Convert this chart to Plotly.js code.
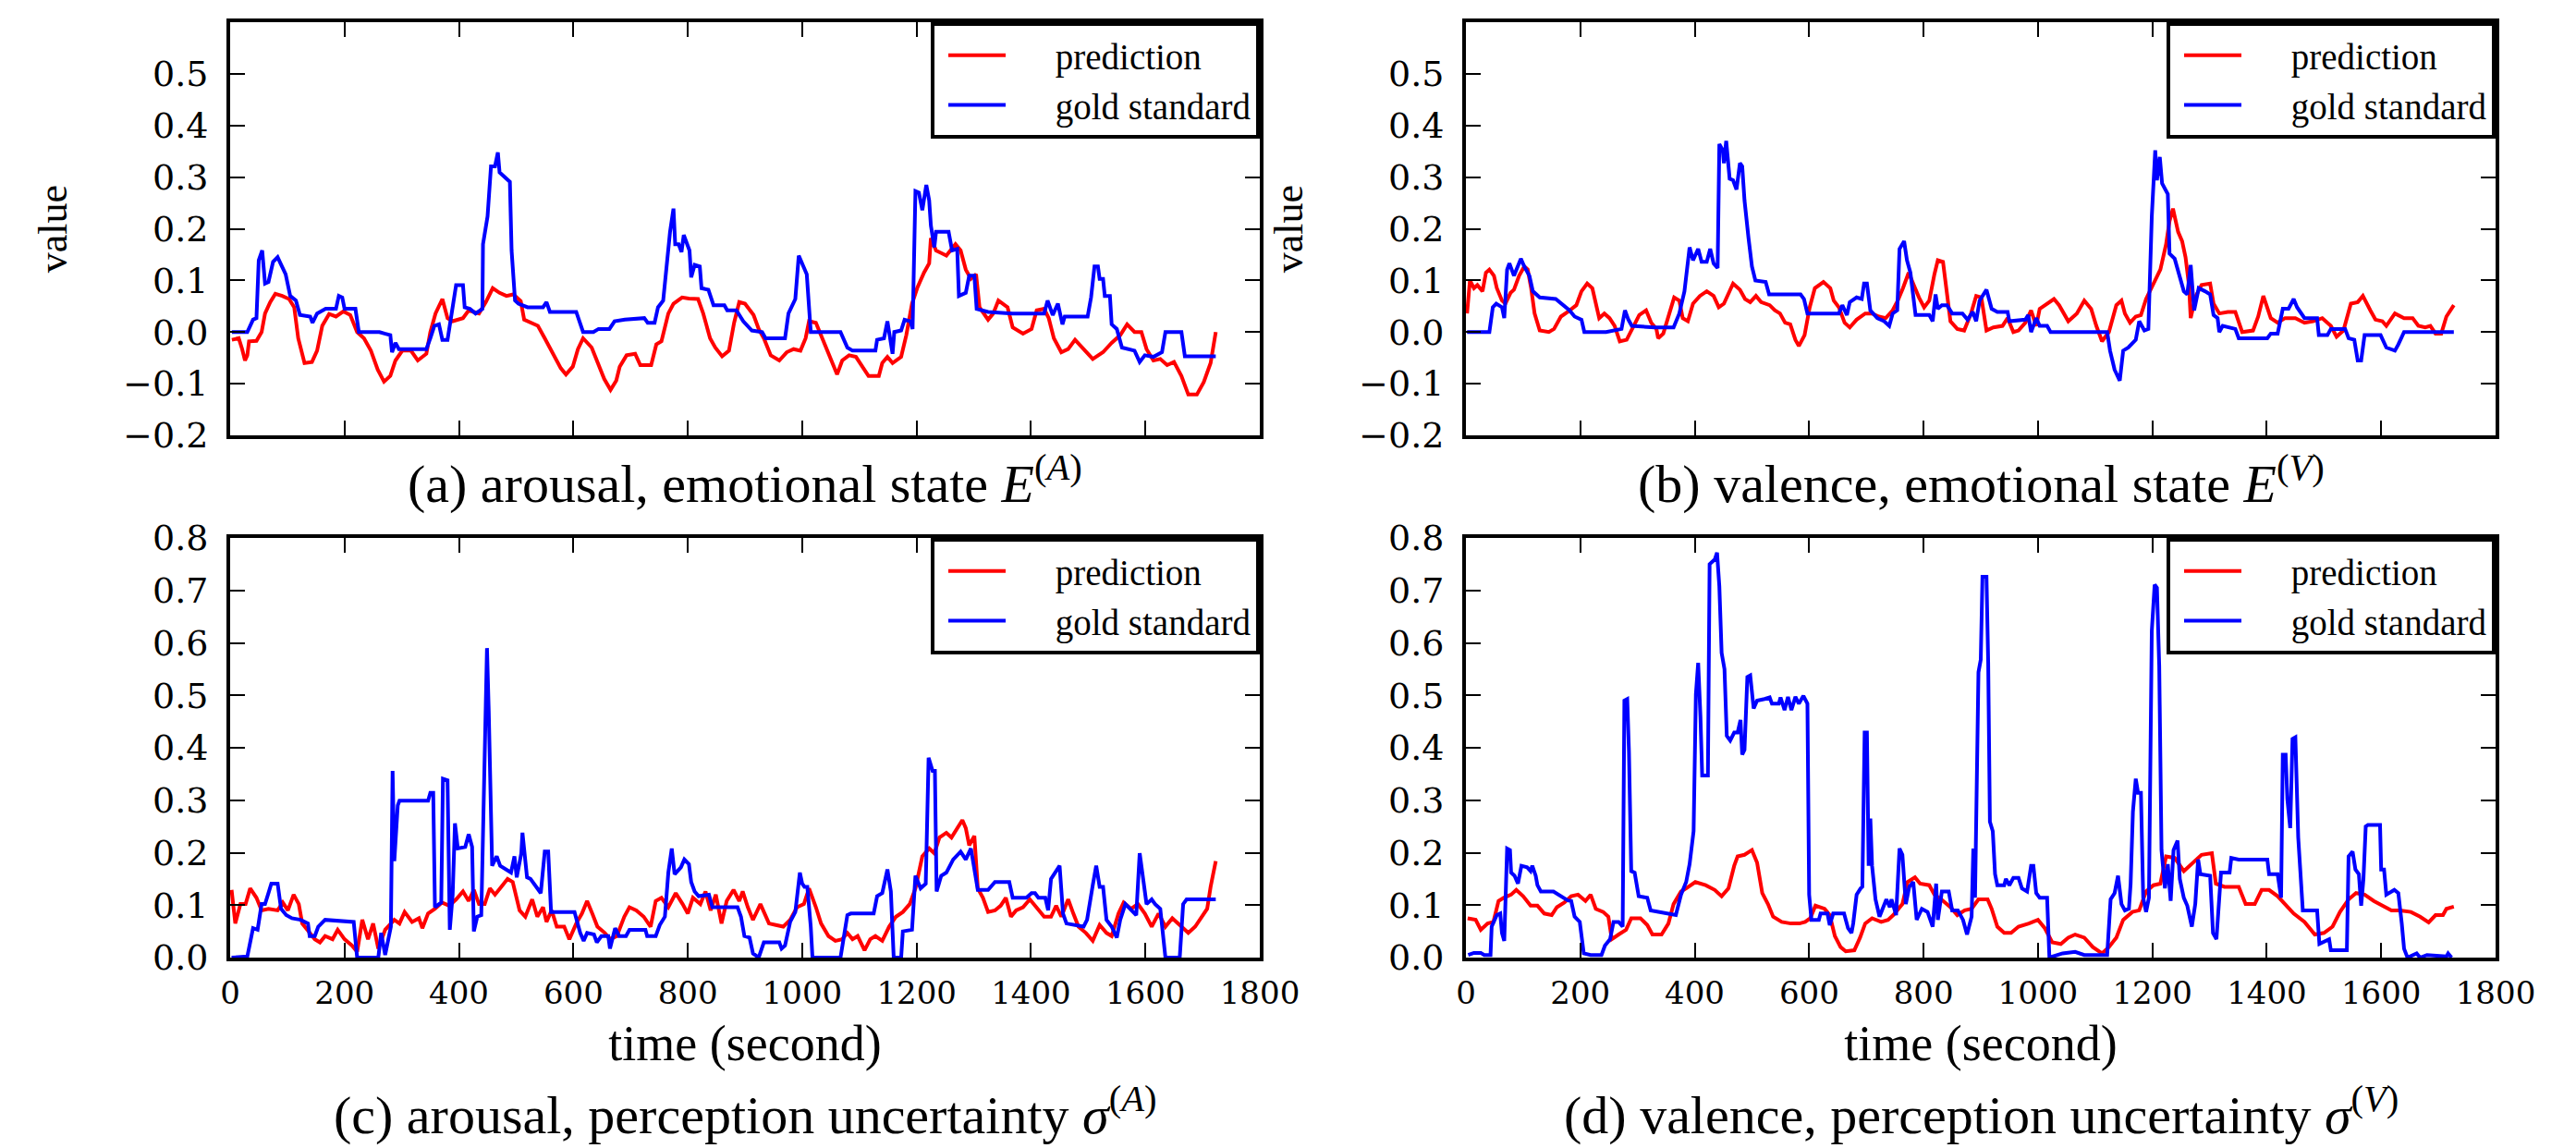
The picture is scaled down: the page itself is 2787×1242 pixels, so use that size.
<!DOCTYPE html>
<html>
<head>
<meta charset="utf-8">
<script src="https://cdn.plot.ly/plotly-3.0.1.min.js"></script>
<style>html,body{margin:0;padding:0;background:#fff;}#chart{width:2787px;height:1242px;}</style>
</head>
<body>
<div id="chart"></div>
<script>
// ---------------- data: [time (s), value] ----------------
const seriesNames = ['prediction', 'gold standard'];
const timeTicks = [0, 200, 400, 600, 800, 1000, 1200, 1400, 1600, 1800];
const stateTicks = [-0.2, -0.1, 0.0, 0.1, 0.2, 0.3, 0.4, 0.5];
const uncertTicks = [0.0, 0.1, 0.2, 0.3, 0.4, 0.5, 0.6, 0.7, 0.8];
const captions = [
  '(a) arousal, emotional state <i>E</i><sup>(<i>A</i>)</sup>',
  '(b) valence, emotional state <i>E</i><sup>(<i>V</i>)</sup>',
  '(c) arousal, perception uncertainty <i>σ</i><sup>(<i>A</i>)</sup>',
  '(d) valence, perception uncertainty <i>σ</i><sup>(<i>V</i>)</sup>'
];

const arousalStatePred = [[3,-0.015],[15,-0.012],[21,-0.033],[26,-0.055],[30,-0.045],[33,-0.018],[46,-0.017],[55,0.0],[61,0.036],[70,0.058],[79,0.074],[91,0.07],[103,0.064],[112,0.048],[119,-0.012],[130,-0.06],[143,-0.058],[152,-0.036],[161,0.012],[173,0.035],[185,0.03],[198,0.04],[210,0.033],[222,0.0],[234,-0.012],[246,-0.036],[258,-0.073],[269,-0.096],[280,-0.085],[289,-0.055],[301,-0.036],[316,-0.036],[328,-0.055],[343,-0.042],[350,0.0],[359,0.036],[371,0.064],[380,0.027],[389,0.021],[407,0.027],[417,0.042],[435,0.036],[447,0.058],[459,0.085],[471,0.076],[483,0.07],[495,0.073],[508,0.06],[514,0.024],[526,0.018],[538,0.012],[550,-0.012],[565,-0.042],[578,-0.07],[587,-0.082],[599,-0.067],[608,-0.033],[617,-0.012],[632,-0.03],[641,-0.055],[654,-0.091],[665,-0.112],[675,-0.094],[681,-0.067],[693,-0.045],[708,-0.042],[717,-0.064],[736,-0.064],[745,-0.024],[754,-0.018],[766,0.036],[775,0.055],[790,0.067],[802,0.065],[818,0.064],[827,0.036],[839,-0.012],[848,-0.03],[860,-0.047],[872,-0.036],[881,0.018],[890,0.058],[900,0.055],[915,0.033],[924,0.006],[933,-0.012],[945,-0.045],[960,-0.055],[973,-0.039],[985,-0.033],[997,-0.036],[1006,-0.012],[1012,0.021],[1024,0.018],[1033,-0.006],[1043,-0.033],[1052,-0.055],[1061,-0.082],[1070,-0.055],[1082,-0.045],[1094,-0.048],[1106,-0.067],[1116,-0.085],[1134,-0.085],[1140,-0.06],[1149,-0.048],[1158,-0.06],[1173,-0.048],[1182,-0.006],[1192,0.055],[1201,0.085],[1213,0.115],[1222,0.133],[1225,0.182],[1234,0.158],[1252,0.148],[1268,0.17],[1277,0.158],[1286,0.121],[1295,0.103],[1304,0.112],[1310,0.048],[1325,0.024],[1334,0.036],[1343,0.061],[1359,0.048],[1368,0.009],[1386,-0.003],[1401,0.006],[1410,0.042],[1423,0.045],[1431,0.027],[1440,-0.012],[1453,-0.039],[1465,-0.033],[1477,-0.015],[1489,-0.03],[1499,-0.042],[1508,-0.052],[1526,-0.039],[1541,-0.021],[1556,-0.006],[1568,0.015],[1581,0.0],[1593,0.0],[1602,-0.033],[1614,-0.055],[1626,-0.052],[1638,-0.064],[1650,-0.058],[1663,-0.085],[1675,-0.121],[1690,-0.121],[1702,-0.097],[1714,-0.06],[1723,0.0]];

const arousalStateGold = [[3,0],[30,0],[40,0.024],[46,0.027],[50,0.139],[56,0.158],[61,0.094],[67,0.097],[75,0.136],[83,0.145],[88,0.133],[97,0.112],[105,0.07],[115,0.061],[122,0.033],[140,0.03],[144,0.018],[152,0.036],[167,0.045],[185,0.045],[190,0.07],[196,0.067],[200,0.045],[219,0.045],[225,0],[261,0],[270,-0.003],[280,-0.006],[283,-0.039],[289,-0.021],[295,-0.033],[343,-0.033],[350,-0.012],[357,0.012],[365,0.015],[371,-0.015],[380,-0.015],[389,0.045],[395,0.091],[407,0.091],[410,0.048],[419,0.045],[429,0.036],[441,0.045],[442,0.17],[450,0.224],[456,0.321],[463,0.321],[468,0.348],[471,0.309],[483,0.297],[489,0.291],[492,0.158],[498,0.061],[504,0.055],[520,0.048],[547,0.048],[553,0.058],[559,0.039],[605,0.039],[617,0],[635,0],[644,0.006],[663,0.006],[672,0.021],[690,0.024],[724,0.027],[730,0.018],[742,0.018],[748,0.048],[757,0.061],[763,0.127],[769,0.194],[775,0.239],[778,0.17],[784,0.17],[789,0.155],[793,0.188],[803,0.158],[806,0.106],[812,0.13],[821,0.127],[824,0.085],[836,0.082],[845,0.052],[864,0.052],[869,0.042],[885,0.042],[897,0.021],[912,0.003],[930,0],[936,-0.012],[970,-0.012],[976,0.036],[988,0.064],[994,0.148],[1000,0.133],[1008,0.112],[1015,0],[1067,0],[1079,-0.03],[1088,-0.036],[1128,-0.036],[1131,-0.015],[1143,-0.012],[1149,0.021],[1158,-0.042],[1161,0],[1173,0.003],[1179,0.024],[1189,0.021],[1193,0.006],[1198,0.273],[1204,0.27],[1210,0.236],[1217,0.285],[1222,0.255],[1225,0.206],[1231,0.164],[1234,0.194],[1256,0.194],[1262,0.158],[1271,0.161],[1274,0.07],[1286,0.076],[1292,0.109],[1301,0.109],[1305,0.045],[1325,0.039],[1368,0.036],[1423,0.036],[1429,0.061],[1438,0.033],[1447,0.055],[1455,0.015],[1459,0.03],[1499,0.03],[1505,0.067],[1511,0.127],[1517,0.127],[1520,0.103],[1526,0.103],[1529,0.07],[1538,0.07],[1541,0.015],[1550,0.006],[1559,-0.03],[1581,-0.036],[1590,-0.058],[1599,-0.045],[1614,-0.048],[1629,-0.039],[1635,0],[1663,0],[1669,-0.047],[1723,-0.047]];

const valenceStatePred = [[2,0.036],[7,0.1],[14,0.085],[20,0.091],[29,0.079],[35,0.115],[41,0.121],[49,0.109],[54,0.085],[63,0.061],[69,0.055],[78,0.076],[84,0.082],[93,0.109],[102,0.127],[108,0.121],[114,0.085],[120,0.036],[129,0.003],[145,0],[154,0.006],[166,0.03],[178,0.039],[193,0.052],[202,0.079],[212,0.094],[221,0.085],[227,0.055],[233,0.027],[242,0.036],[251,0.027],[260,0.012],[269,-0.018],[281,-0.015],[290,0.006],[303,0.033],[315,0.042],[324,0.018],[333,0.006],[336,-0.012],[345,-0.003],[354,0.033],[364,0.067],[373,0.061],[379,0.027],[388,0.021],[397,0.055],[409,0.07],[421,0.079],[433,0.07],[442,0.048],[451,0.055],[467,0.094],[479,0.082],[488,0.064],[497,0.058],[507,0.07],[516,0.058],[531,0.052],[540,0.042],[549,0.036],[558,0.018],[567,0.015],[576,-0.015],[582,-0.027],[592,-0.006],[601,0.048],[610,0.085],[625,0.097],[637,0.085],[643,0.061],[652,0.048],[662,0.018],[671,0.009],[683,0.024],[698,0.036],[710,0.036],[722,0.03],[734,0.027],[746,0.042],[755,0.061],[764,0.085],[774,0.115],[783,0.091],[792,0.067],[801,0.048],[810,0.061],[819,0.112],[825,0.139],[834,0.136],[840,0.085],[847,0.021],[859,0.006],[871,0.003],[883,0.036],[892,0.07],[901,0.067],[910,0.003],[922,0.009],[938,0.012],[947,0.027],[957,0],[966,0.003],[978,0.018],[988,0.042],[997,0.012],[1003,0.045],[1016,0.055],[1028,0.064],[1037,0.052],[1053,0.021],[1068,0.036],[1081,0.061],[1093,0.045],[1102,0.012],[1112,-0.018],[1124,0],[1137,0.052],[1146,0.061],[1152,0.036],[1161,0.018],[1171,0.03],[1180,0.033],[1189,0.064],[1202,0.094],[1214,0.121],[1224,0.17],[1230,0.215],[1236,0.239],[1245,0.194],[1252,0.176],[1258,0.145],[1264,0.091],[1267,0.027],[1276,0.07],[1286,0.091],[1301,0.094],[1307,0.055],[1317,0.036],[1332,0.039],[1345,0.039],[1357,0],[1376,0.003],[1385,0.03],[1394,0.07],[1407,0.027],[1419,0.018],[1432,0.027],[1450,0.027],[1466,0.018],[1481,0.021],[1497,0.027],[1512,0.012],[1522,-0.009],[1534,0.003],[1547,0.055],[1559,0.058],[1568,0.07],[1581,0.042],[1590,0.024],[1602,0.021],[1609,0.012],[1624,0.036],[1640,0.027],[1655,0.027],[1665,0.012],[1677,0.009],[1686,0.012],[1695,-0.003],[1705,-0.003],[1714,0.03],[1727,0.052]];

const valenceStateGold = [[2,0],[41,0],[47,0.048],[53,0.055],[63,0.048],[67,0.027],[72,0.121],[76,0.133],[84,0.109],[90,0.124],[96,0.142],[102,0.127],[111,0.109],[117,0.079],[129,0.067],[157,0.064],[169,0.052],[181,0.042],[190,0.03],[202,0.024],[207,0],[245,0],[272,0.006],[278,0.042],[284,0.024],[290,0.012],[330,0.009],[363,0.009],[373,0.036],[382,0.079],[391,0.164],[397,0.139],[406,0.161],[412,0.136],[421,0.136],[427,0.161],[433,0.133],[440,0.124],[443,0.364],[449,0.352],[451,0.327],[455,0.37],[461,0.297],[467,0.294],[473,0.276],[479,0.327],[483,0.321],[487,0.255],[494,0.182],[500,0.127],[506,0.1],[524,0.097],[530,0.073],[585,0.073],[591,0.064],[597,0.036],[652,0.036],[658,0.052],[666,0.033],[671,0.058],[683,0.067],[692,0.064],[696,0.094],[701,0.094],[707,0.042],[719,0.027],[731,0.021],[740,0.012],[746,0.036],[754,0.042],[758,0.161],[766,0.176],[771,0.139],[777,0.115],[786,0.033],[810,0.033],[816,0.021],[821,0.073],[825,0.045],[832,0.052],[841,0.052],[850,0.036],[868,0.036],[877,0.024],[886,0.039],[892,0.021],[898,0.061],[910,0.082],[919,0.045],[929,0.039],[947,0.039],[950,0.021],[978,0.024],[983,0.033],[988,0],[997,0.027],[1003,0.012],[1016,0.012],[1022,0],[1121,0],[1126,-0.036],[1134,-0.073],[1143,-0.094],[1149,-0.036],[1158,-0.03],[1171,-0.015],[1177,0.021],[1186,0.003],[1193,0.006],[1199,0.224],[1205,0.352],[1208,0.294],[1213,0.339],[1217,0.288],[1227,0.267],[1230,0.152],[1239,0.142],[1246,0.115],[1255,0.079],[1261,0.073],[1267,0.13],[1273,0.042],[1281,0.085],[1292,0.079],[1301,0.073],[1307,0.033],[1314,0.027],[1317,0],[1323,0.012],[1345,0.006],[1351,-0.012],[1401,-0.012],[1407,-0.003],[1419,-0.003],[1428,0.045],[1438,0.045],[1447,0.064],[1453,0.048],[1466,0.027],[1488,0.027],[1491,-0.006],[1506,-0.006],[1512,0.006],[1537,0.006],[1543,-0.012],[1553,-0.015],[1559,-0.055],[1565,-0.055],[1571,-0.006],[1599,-0.006],[1609,-0.03],[1624,-0.036],[1630,-0.024],[1640,0],[1727,0]];

const arousalUncertPred = [[2.5,0.129],[9,0.065],[18,0.102],[27,0.102],[35,0.132],[46,0.114],[55,0.09],[67,0.093],[83,0.09],[92,0.105],[101,0.09],[111,0.12],[120,0.102],[126,0.065],[135,0.053],[148,0.035],[157,0.029],[166,0.041],[179,0.035],[188,0.053],[200,0.035],[213,0.023],[222,0.011],[231,0.072],[241,0.035],[250,0.065],[259,0.017],[271,0.053],[287,0.072],[296,0.065],[305,0.087],[318,0.068],[330,0.075],[336,0.056],[346,0.084],[358,0.093],[370,0.105],[383,0.099],[395,0.111],[407,0.126],[417,0.108],[426,0.129],[435,0.102],[445,0.102],[454,0.132],[463,0.12],[472,0.132],[485,0.15],[494,0.144],[500,0.12],[506,0.09],[516,0.078],[528,0.111],[537,0.078],[547,0.096],[553,0.068],[562,0.09],[571,0.059],[584,0.059],[593,0.035],[605,0.065],[615,0.084],[624,0.108],[633,0.084],[642,0.059],[655,0.047],[664,0.035],[676,0.041],[689,0.078],[698,0.096],[710,0.09],[723,0.078],[735,0.059],[744,0.108],[754,0.114],[766,0.096],[779,0.123],[791,0.102],[800,0.084],[809,0.114],[822,0.102],[831,0.126],[840,0.09],[849,0.12],[859,0.065],[868,0.108],[880,0.129],[890,0.108],[896,0.126],[905,0.096],[914,0.072],[927,0.102],[942,0.065],[954,0.062],[967,0.059],[979,0.072],[991,0.096],[1003,0.102],[1012,0.132],[1024,0.096],[1033,0.065],[1046,0.041],[1058,0.032],[1070,0.035],[1079,0.047],[1088,0.035],[1097,0.041],[1109,0.014],[1119,0.035],[1128,0.041],[1140,0.032],[1152,0.059],[1164,0.078],[1176,0.087],[1188,0.102],[1198,0.132],[1210,0.193],[1222,0.208],[1231,0.199],[1240,0.229],[1252,0.238],[1261,0.229],[1271,0.247],[1280,0.262],[1286,0.247],[1292,0.214],[1301,0.232],[1307,0.132],[1316,0.114],[1325,0.087],[1337,0.09],[1347,0.099],[1356,0.114],[1365,0.078],[1374,0.09],[1386,0.096],[1398,0.111],[1410,0.096],[1423,0.078],[1435,0.078],[1444,0.099],[1453,0.078],[1465,0.111],[1474,0.084],[1483,0.059],[1496,0.047],[1508,0.032],[1520,0.062],[1532,0.047],[1541,0.041],[1553,0.084],[1562,0.105],[1575,0.093],[1587,0.102],[1599,0.084],[1611,0.059],[1623,0.084],[1635,0.059],[1647,0.075],[1660,0.062],[1675,0.047],[1687,0.059],[1699,0.078],[1708,0.093],[1714,0.135],[1723,0.184]];

const arousalUncertGold = [[2.5,0],[30,0.002],[40,0.056],[48,0.053],[55,0.102],[61,0.102],[67,0.123],[72,0.141],[83,0.141],[89,0.093],[98,0.081],[108,0.075],[123,0.072],[136,0.065],[139,0.041],[148,0.041],[154,0.059],[166,0.072],[216,0.068],[222,0],[259,0],[264,0.047],[271,0.005],[278,0.041],[281,0.059],[284,0.356],[287,0.184],[293,0.29],[296,0.299],[346,0.299],[350,0.314],[355,0.314],[358,0.096],[369,0.105],[372,0.341],[380,0.338],[384,0.053],[389,0.12],[393,0.256],[398,0.208],[411,0.211],[417,0.235],[423,0.211],[426,0.05],[432,0.078],[439,0.081],[446,0.465],[449,0.59],[452,0.472],[458,0.175],[466,0.193],[472,0.175],[491,0.162],[497,0.193],[501,0.153],[509,0.199],[511,0.238],[519,0.153],[525,0.15],[534,0.135],[543,0.123],[550,0.202],[556,0.202],[561,0.087],[602,0.087],[612,0.047],[618,0.032],[624,0.047],[636,0.044],[641,0.029],[649,0.041],[661,0.041],[664,0.017],[673,0.056],[680,0.041],[692,0.041],[698,0.053],[726,0.053],[729,0.041],[744,0.041],[751,0.062],[760,0.078],[766,0.162],[772,0.208],[777,0.159],[788,0.172],[794,0.187],[802,0.178],[806,0.144],[812,0.126],[819,0.117],[837,0.12],[843,0.096],[887,0.096],[893,0.078],[899,0.041],[908,0.038],[914,0.008],[924,0],[933,0.029],[960,0.029],[964,0.017],[970,0.023],[979,0.068],[988,0.087],[996,0.162],[1000,0.141],[1004,0.135],[1009,0.135],[1015,0.059],[1018,0],[1067,0],[1079,0.081],[1085,0.084],[1125,0.084],[1131,0.117],[1140,0.123],[1149,0.168],[1155,0.126],[1160,0],[1173,0],[1176,0.05],[1192,0.053],[1198,0.156],[1207,0.132],[1216,0.141],[1221,0.381],[1228,0.356],[1232,0.356],[1235,0.126],[1243,0.156],[1252,0.162],[1264,0.187],[1277,0.202],[1286,0.187],[1295,0.208],[1307,0.129],[1325,0.129],[1337,0.144],[1362,0.144],[1368,0.114],[1392,0.114],[1401,0.123],[1407,0.123],[1413,0.114],[1425,0.114],[1430,0.09],[1435,0.15],[1450,0.175],[1456,0.084],[1462,0.065],[1492,0.059],[1498,0.072],[1508,0.138],[1514,0.175],[1520,0.135],[1526,0.135],[1532,0.072],[1541,0.059],[1550,0.038],[1556,0.072],[1565,0.102],[1584,0.081],[1590,0.199],[1596,0.15],[1602,0.102],[1611,0.111],[1617,0.102],[1626,0.093],[1635,0],[1660,0],[1666,0.102],[1672,0.111],[1723,0.111]];

const valenceUncertPred = [[3,0.075],[17,0.072],[26,0.053],[38,0.065],[48,0.068],[57,0.108],[66,0.114],[79,0.12],[88,0.129],[100,0.117],[113,0.099],[125,0.099],[137,0.084],[150,0.081],[159,0.096],[172,0.105],[184,0.117],[196,0.12],[209,0.108],[218,0.12],[227,0.093],[240,0.087],[249,0.078],[255,0.035],[267,0.044],[280,0.053],[289,0.075],[305,0.075],[317,0.062],[326,0.044],[342,0.044],[354,0.065],[363,0.102],[376,0.126],[385,0.132],[401,0.144],[419,0.138],[435,0.129],[447,0.117],[459,0.132],[469,0.175],[475,0.193],[487,0.196],[500,0.205],[509,0.181],[518,0.123],[528,0.102],[537,0.078],[552,0.068],[568,0.065],[583,0.065],[593,0.068],[602,0.075],[611,0.099],[627,0.093],[636,0.081],[645,0.041],[655,0.02],[664,0.012],[679,0.014],[689,0.038],[698,0.065],[710,0.075],[726,0.068],[738,0.072],[747,0.081],[763,0.102],[772,0.144],[785,0.153],[794,0.141],[810,0.138],[819,0.12],[831,0.111],[847,0.096],[859,0.081],[872,0.09],[884,0.093],[896,0.111],[912,0.111],[919,0.093],[929,0.059],[941,0.047],[953,0.047],[966,0.059],[984,0.065],[1000,0.072],[1012,0.056],[1025,0.029],[1040,0.026],[1053,0.038],[1065,0.044],[1081,0.038],[1096,0.02],[1112,0.008],[1124,0.02],[1137,0.038],[1149,0.072],[1165,0.087],[1177,0.09],[1189,0.126],[1202,0.138],[1214,0.141],[1224,0.193],[1239,0.19],[1255,0.165],[1270,0.181],[1286,0.196],[1304,0.199],[1311,0.141],[1326,0.135],[1351,0.135],[1363,0.102],[1379,0.102],[1391,0.129],[1404,0.129],[1419,0.117],[1432,0.102],[1447,0.084],[1466,0.068],[1484,0.044],[1500,0.047],[1515,0.059],[1528,0.087],[1543,0.111],[1556,0.123],[1571,0.12],[1587,0.108],[1602,0.099],[1618,0.09],[1633,0.09],[1652,0.087],[1668,0.078],[1683,0.067],[1695,0.081],[1708,0.081],[1714,0.093],[1727,0.097]];

const valenceUncertGold = [[4,0.005],[14,0.009],[26,0.009],[32,0.005],[43,0.005],[45,0.059],[54,0.081],[60,0.084],[63,0.047],[67,0.032],[72,0.208],[77,0.205],[79,0.162],[85,0.156],[91,0.141],[97,0.175],[107,0.172],[113,0.165],[116,0.175],[122,0.156],[125,0.138],[131,0.126],[153,0.126],[162,0.12],[168,0.117],[178,0.109],[184,0.108],[190,0.078],[199,0.068],[206,0.008],[218,0.005],[237,0.005],[243,0.023],[252,0.035],[258,0.068],[267,0.068],[274,0.059],[277,0.49],[282,0.493],[285,0.393],[289,0.165],[295,0.162],[302,0.117],[317,0.114],[323,0.09],[339,0.087],[354,0.084],[367,0.081],[376,0.12],[385,0.144],[391,0.178],[398,0.241],[402,0.502],[406,0.562],[410,0.459],[413,0.347],[423,0.347],[426,0.75],[435,0.759],[439,0.772],[443,0.708],[447,0.581],[452,0.55],[456,0.423],[462,0.414],[469,0.429],[475,0.429],[480,0.453],[483,0.387],[487,0.396],[492,0.535],[497,0.538],[503,0.475],[509,0.49],[522,0.493],[531,0.496],[535,0.484],[547,0.484],[550,0.496],[557,0.472],[563,0.497],[569,0.472],[576,0.497],[582,0.484],[590,0.499],[597,0.484],[600,0.12],[604,0.072],[617,0.072],[620,0.084],[632,0.084],[636,0.062],[642,0.084],[661,0.084],[668,0.056],[674,0.047],[677,0.065],[683,0.12],[690,0.132],[693,0.135],[697,0.429],[701,0.429],[704,0.175],[707,0.265],[710,0.175],[716,0.111],[723,0.078],[735,0.111],[741,0.096],[744,0.111],[752,0.081],[758,0.208],[763,0.196],[769,0.102],[775,0.135],[782,0.144],[788,0.072],[797,0.093],[807,0.087],[816,0.059],[822,0.141],[825,0.072],[832,0.126],[844,0.126],[850,0.09],[860,0.09],[869,0.072],[876,0.044],[884,0.078],[887,0.208],[890,0.114],[896,0.544],[900,0.568],[903,0.726],[910,0.726],[913,0.562],[916,0.259],[921,0.241],[925,0.159],[929,0.138],[941,0.138],[944,0.15],[950,0.138],[957,0.152],[966,0.152],[972,0.132],[981,0.126],[988,0.175],[992,0.175],[997,0.123],[1003,0.114],[1016,0.114],[1020,0],[1043,0.008],[1065,0.011],[1081,0.005],[1121,0.005],[1127,0.111],[1134,0.123],[1140,0.156],[1146,0.102],[1152,0.09],[1159,0.093],[1162,0.141],[1166,0.278],[1171,0.341],[1175,0.314],[1180,0.314],[1184,0.114],[1189,0.087],[1194,0.114],[1197,0.453],[1199,0.623],[1204,0.711],[1208,0.705],[1212,0.556],[1216,0.205],[1222,0.132],[1227,0.178],[1232,0.108],[1237,0.205],[1244,0.223],[1248,0.15],[1255,0.114],[1261,0.099],[1269,0.059],[1275,0.102],[1280,0.187],[1284,0.159],[1301,0.156],[1306,0.047],[1312,0.035],[1317,0.123],[1320,0.162],[1335,0.162],[1338,0.19],[1351,0.187],[1401,0.187],[1404,0.159],[1419,0.159],[1425,0.114],[1428,0.387],[1433,0.387],[1436,0.302],[1441,0.247],[1445,0.417],[1450,0.42],[1455,0.229],[1463,0.09],[1488,0.09],[1492,0.026],[1509,0.035],[1512,0.014],[1540,0.014],[1543,0.193],[1550,0.202],[1555,0.168],[1561,0.159],[1565,0.099],[1569,0.15],[1573,0.25],[1577,0.253],[1598,0.253],[1600,0.168],[1605,0.168],[1609,0.12],[1623,0.129],[1630,0.123],[1636,0.065],[1640,0.017],[1646,0],[1662,0.008],[1668,0],[1680,0.005],[1714,0.002],[1717,0.008],[1723,0]];

// ---------------- layout geometry (pixels of the 2787x1242 page) ----------------
const W = 2787, H = 1242;
const colL = [249, 1363], colR = [1586, 2700];
const rowT = [24, 471], rowB = [582, 1036];
const xd = c => [c[0] / W, c[1] / W];
const yd = r => [1 - r[1] / H, 1 - r[0] / H];

const RED = '#ff0000', BLUE = '#0000ff';
const serif = '"Liberation Serif", "Times New Roman", serif';
const legendPad = '\u00a0\u00a0\u00a0\u00a0\u00a0';

const panels = [
  {pred: arousalStatePred, gold: arousalStateGold, ax: '', cols: colL, rows: rowT, legend: 'legend'},
  {pred: valenceStatePred, gold: valenceStateGold, ax: '2', cols: colR, rows: rowT, legend: 'legend2'},
  {pred: arousalUncertPred, gold: arousalUncertGold, ax: '3', cols: colL, rows: rowB, legend: 'legend3'},
  {pred: valenceUncertPred, gold: valenceUncertGold, ax: '4', cols: colR, rows: rowB, legend: 'legend4'}
];

const traces = [];
panels.forEach(p => {
  [[p.pred, RED, seriesNames[0]], [p.gold, BLUE, seriesNames[1]]].forEach(([s, col, nm]) => {
    traces.push({
      type: 'scatter', mode: 'lines', name: legendPad + nm,
      x: s.map(d => d[0]), y: s.map(d => d[1]),
      xaxis: 'x' + p.ax, yaxis: 'y' + p.ax,
      line: {color: col, width: 4},
      legend: p.legend, showlegend: true, hoverinfo: 'skip'
    });
  });
});

function axisBase() {
  return {
    showline: true, linewidth: 4, linecolor: '#000', mirror: 'allticks',
    ticks: 'inside', ticklen: 16, tickwidth: 2, tickcolor: '#000',
    showgrid: false, zeroline: false, fixedrange: true
  };
}

const layout = {
  width: W, height: H,
  margin: {l: 0, r: 0, t: 0, b: 0},
  paper_bgcolor: '#fff', plot_bgcolor: '#fff',
  showlegend: true,
  annotations: []
};

panels.forEach((p, i) => {
  const isTop = p.rows === rowT;
  const xa = Object.assign(axisBase(), {
    domain: xd(p.cols), anchor: 'y' + p.ax, range: [0, 1800],
    tickmode: 'array', tickvals: timeTicks, showticklabels: !isTop,
    ticklabelstandoff: 5, tickfont: {family: '"DejaVu Serif", serif', size: 34, color: '#000'}
  });
  if (!isTop) {
    xa.title = {text: 'time (second)', font: {family: serif, size: 54, color: '#000'}, standoff: 17};
  }
  const ya = Object.assign(axisBase(), {
    domain: yd(p.rows), anchor: 'x' + p.ax,
    range: isTop ? [-0.2, 0.6] : [0, 0.8],
    tickmode: 'array', tickvals: isTop ? stateTicks : uncertTicks,
    tickformat: '.1f', ticklabelstandoff: 12,
    tickfont: {family: '"DejaVu Serif", serif', size: 38, color: '#000'}
  });
  if (isTop) {
    ya.title = {text: 'value', font: {family: serif, size: 44, color: '#000'}, standoff: 48};
  }
  layout['xaxis' + p.ax] = xa;
  layout['yaxis' + p.ax] = ya;

  layout[p.legend] = {
    x: p.cols[1] / W, xanchor: 'right',
    y: 1 - p.rows[0] / H, yanchor: 'top',
    bgcolor: '#fff', bordercolor: '#000', borderwidth: 4,
    font: {family: serif, size: 39, color: '#000'},
    itemwidth: 62, indentation: 10, tracegroupgap: 0
  };

  const capY = isTop ? 519 : 1202;
  layout.annotations.push({
    xref: 'paper', yref: 'paper', x: (p.cols[0] + p.cols[1]) / 2 / W, y: 1 - capY / H,
    xanchor: 'center', yanchor: 'middle', showarrow: false,
    text: captions[i], font: {family: serif, size: 58, color: '#000'}
  });
});

Plotly.newPlot('chart', traces, layout, {displayModeBar: false, staticPlot: true});
</script>
</body>
</html>
